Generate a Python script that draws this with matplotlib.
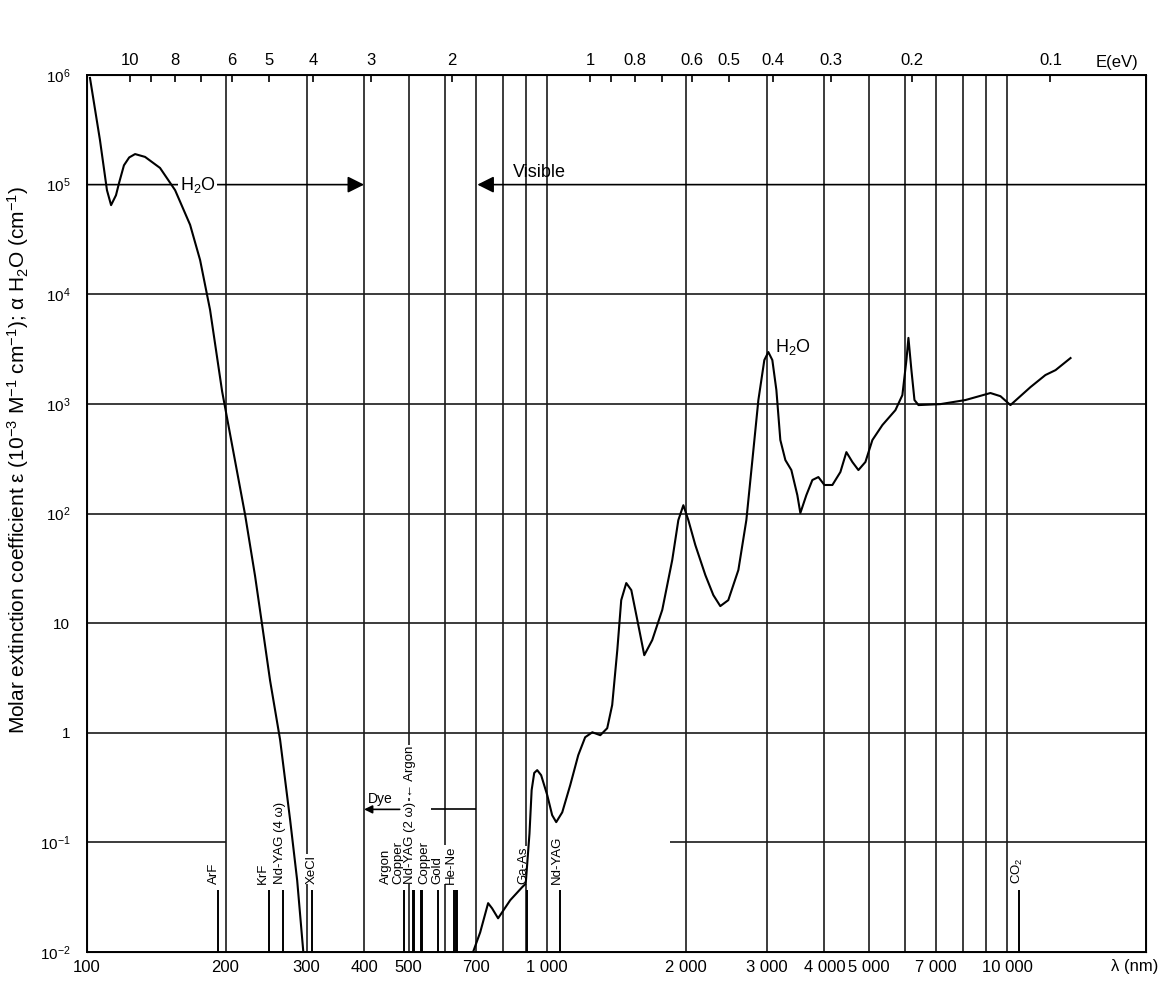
import matplotlib
matplotlib.use('Agg')
import matplotlib.pyplot as plt
from matplotlib.ticker import NullLocator, NullFormatter

plt.rcParams['font.family'] = ['Liberation Sans', 'DejaVu Sans']
plt.rcParams['mathtext.fontset'] = 'custom'
plt.rcParams['mathtext.rm'] = 'Liberation Sans'
plt.rcParams['mathtext.it'] = 'Liberation Sans:italic'

### Data

# water absorption, UV side (nm, coefficient)
uv_wl = [101.5, 106.7, 110.5, 112.8, 115.6, 117.5, 120.3, 123.5, 127.2, 133.7,
         144.1, 155.4, 167.5, 176.1, 185.1, 196.6, 206.7, 220.6, 231.8, 240.2,
         249.9, 262.8, 276.3, 286.2, 294.9]
uv_val = [9.4e5, 2.55e5, 8.9e4, 6.5e4, 8.0e4, 1.05e5, 1.5e5, 1.77e5, 1.9e5, 1.79e5,
          1.42e5, 8.9e4, 4.3e4, 2.05e4, 7.2e3, 1.3e3, 420, 97, 27, 9.6,
          3.0, 0.86, 0.16, 0.045, 0.0104]

# water absorption, visible / IR side
ir_wl = [690, 715, 744, 759, 782, 831, 882, 898, 915, 925, 937, 951, 970, 1000,
         1025, 1046, 1078, 1122, 1168, 1209, 1253, 1304, 1350, 1384, 1420, 1448,
         1485, 1523, 1570, 1625, 1691, 1778, 1869, 1927, 1976, 2026, 2098, 2206,
         2296, 2377, 2474, 2602, 2708, 2791, 2876, 2963, 3023, 3084, 3147, 3210,
         3292, 3392, 3495, 3548, 3656, 3768, 3883, 4002, 4165, 4335, 4467, 4603,
         4744, 4913, 5088, 5349, 5709, 5911, 6032, 6093, 6184, 6280, 6407, 7151,
         8104, 9183, 9656, 10150, 11220, 12090, 12720, 13710]
ir_val = [0.010, 0.0151, 0.0279, 0.025, 0.0203, 0.0297, 0.039, 0.042, 0.12, 0.3,
          0.43, 0.456, 0.41, 0.27, 0.177, 0.153, 0.188, 0.333, 0.625, 0.91, 1.01,
          0.95, 1.1, 1.79, 5.7, 16.2, 23.2, 20, 10.6, 5.1, 7.0, 13.2, 37.6, 87,
          119, 87, 51.5, 27.4, 18, 14.3, 16.2, 30.5, 87, 307, 1084, 2510, 2970,
          2510, 1337, 468, 307, 249, 147, 101, 147, 202, 215, 182, 182, 239, 363,
          295, 249, 295, 468, 641, 877, 1202, 2510, 4000, 2040, 1084, 975, 995,
          1084, 1256, 1175, 975, 1422, 1832, 2032, 2618]

# laser lines (nm)
laser_wl = [193, 248, 266, 308, 488, 510, 532, 578, 628, 633, 904, 1064, 10600]
laser_names = ['ArF', 'KrF', 'Nd-YAG (4 ω)', 'XeCl', 'Argon', 'Copper',
               'Nd-YAG (2 ω)', 'Copper', 'Gold', 'He-Ne', 'Ga-As', 'Nd-YAG',
               'CO$_2$']
extra_lines = [514, 535, 636]

grid_wl = [200, 300, 400, 500, 600, 700, 800, 900, 1000, 2000, 3000, 4000,
           5000, 6000, 7000, 8000, 9000, 10000]
decades = [1e-2, 1e-1, 1, 10, 1e2, 1e3, 1e4, 1e5, 1e6]
dec_labels = ['$10^{-2}$', '$10^{-1}$', '1', '10', '$10^{2}$', '$10^{3}$',
              '$10^{4}$', '$10^{5}$', '$10^{6}$']
wl_ticks = [100, 200, 300, 400, 500, 700, 1000, 2000, 3000, 4000, 5000, 7000, 10000]
wl_labels = ['100', '200', '300', '400', '500', '700', '1 000', '2 000', '3 000',
             '4 000', '5 000', '7 000', '10 000']
ev_ticks = [10, 9, 8, 7, 6, 5, 4, 3, 2, 1, 0.9, 0.8, 0.7, 0.6, 0.5, 0.4, 0.3, 0.2, 0.1]
ev_labels = ['10', '', '8', '', '6', '5', '4', '3', '2', '1', '', '0.8', '', '0.6',
             '0.5', '0.4', '0.3', '0.2', '0.1']

### Plot

W, H = 1168, 981
fig = plt.figure(figsize=(W / 100, H / 100), dpi=100)
ax = fig.add_axes([87 / W, 29 / H, (1146 - 87) / W, (952 - 75) / H])
ax.set_xscale('log')
ax.set_yscale('log')
ax.set_xlim(100, 20000)
ax.set_ylim(1e-2, 1e6)

gc = '#1a1a1a'
for w in grid_wl:
    ax.axvline(w, color=gc, lw=1.2, zorder=1)
for d in [1, 10, 1e2, 1e3, 1e4]:
    ax.axhline(d, color=gc, lw=1.2, zorder=1)
ax.hlines(1e-1, 100, 200, color=gc, lw=1.2, zorder=1)
ax.hlines(1e-1, 1850, 20000, color=gc, lw=1.2, zorder=1)

ax.plot(uv_wl, uv_val, color='k', lw=1.5, zorder=5)
ax.plot(ir_wl, ir_val, color='k', lw=1.5, zorder=5)

# laser lines and names
ax.vlines(laser_wl, 1e-2, 0.037, color='k', lw=1.4, zorder=2)
ax.vlines(extra_lines, 1e-2, 0.037, color='k', lw=1.4, zorder=2)
name_dx = [-4, -6, -3, 0, -18, -14, -11, -13, -17, -5, -4, -3, -2]
for w, name, dx in zip(laser_wl, laser_names, name_dx):
    ax.annotate(name, (w, 0.042), xytext=(dx, 0), textcoords='offset pixels',
                rotation=90, ha='center', va='bottom', fontsize=9.5, zorder=4,
                bbox=dict(boxstyle='square,pad=0.05', fc='white', ec='none'))

# UV / visible markers on the 10^5 line
arr = dict(arrowstyle='-|>', mutation_scale=25, lw=1.2, color='k',
           shrinkA=0, shrinkB=0)
ax.annotate('', xy=(400, 1e5), xytext=(100, 1e5), arrowprops=arr, zorder=2)
ax.annotate('', xy=(705, 1e5), xytext=(20000, 1e5), arrowprops=arr, zorder=2)
ax.text(174, 1e5, 'H$_2$O', ha='center', va='center', fontsize=13, zorder=4,
        bbox=dict(boxstyle='square,pad=0.1', fc='white', ec='none'))
ax.text(843, 1.3e5, 'Visible', ha='left', va='center', fontsize=13, zorder=4)
ax.text(3130, 3300, 'H$_2$O', ha='left', va='center', fontsize=13, zorder=4)

# dye range
ax.annotate('', xy=(400, 0.2), xytext=(478, 0.2),
            arrowprops=dict(arrowstyle='-|>', mutation_scale=12, lw=1.2,
                            color='k', shrinkA=0, shrinkB=0))
ax.hlines(0.2, 560, 700, color='k', lw=1.2)
ax.text(433, 0.25, 'Dye', ha='center', va='center', fontsize=10)
ax.text(504, 0.26, '← Argon', rotation=90, ha='center', va='bottom', fontsize=9.5,
        bbox=dict(boxstyle='square,pad=0.05', fc='white', ec='none'), zorder=4)

ax.set_yticks(decades)
ax.set_yticklabels(dec_labels)
ax.yaxis.set_minor_locator(NullLocator())
ax.set_xticks(wl_ticks)
ax.set_xticklabels(wl_labels)
ax.xaxis.set_minor_locator(NullLocator())
ax.xaxis.set_minor_formatter(NullFormatter())
ax.tick_params(axis='y', length=0, pad=12, labelsize=11)
ax.tick_params(axis='x', length=0, pad=6, labelsize=12)
for s in ax.spines.values():
    s.set_linewidth(1.4)

# energy axis on top
ax_top = ax.twiny()
ax_top.set_xscale('log')
ax_top.set_xlim(ax.get_xlim())
ax_top.set_xticks([1240 / e for e in ev_ticks])
ax_top.set_xticklabels(ev_labels)
ax_top.xaxis.set_minor_locator(NullLocator())
ax_top.xaxis.set_minor_formatter(NullFormatter())
ax_top.tick_params(axis='x', direction='in', length=5, width=1.2, pad=5, labelsize=12)

fig.text(1117 / W, 1 - 62 / H, 'E(eV)', ha='center', va='center', fontsize=12)
fig.text(1135 / W, 1 - 967 / H, 'λ (nm)', ha='center', va='center', fontsize=12)
fig.text(18 / W, 1 - 460 / H,
         'Molar extinction coefficient ε (10$^{-3}$ M$^{-1}$ cm$^{-1}$); α H$_2$O (cm$^{-1}$)',
         rotation=90, ha='center', va='center', fontsize=15)

fig.savefig('out.png', dpi=100)
